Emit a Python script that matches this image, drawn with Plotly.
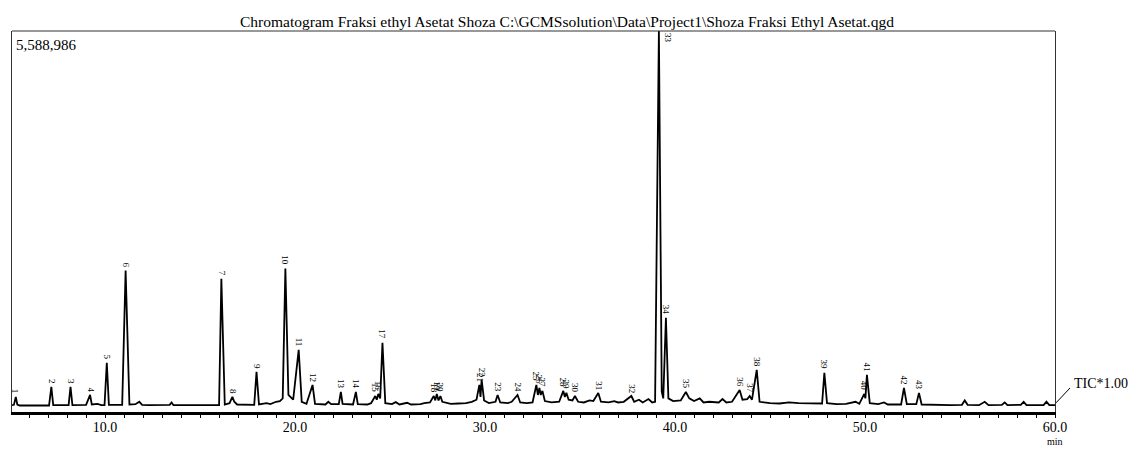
import plotly.graph_objects as go

# TIC trace vertices (retention time in min, intensity in counts)
trace_time = [
    5.10, 5.20, 5.30, 5.38, 5.50, 7.05, 7.17, 7.27, 8.08, 8.18, 8.28, 9.00, 9.21, 9.30,
    9.60, 9.80, 9.97, 10.09, 10.20, 10.90, 11.08, 11.28, 11.60, 11.80, 11.95, 12.30,
    13.40, 13.50, 13.60, 16.00, 16.12, 16.30, 16.55, 16.70, 16.80, 16.95, 17.85, 17.97,
    18.10, 18.50, 18.70, 19.00, 19.20, 19.35, 19.49, 19.65, 19.90, 20.19, 20.35, 20.60,
    20.92, 21.05, 21.60, 21.75, 21.90, 22.30, 22.41, 22.50, 23.05, 23.20, 23.30, 23.80,
    24.00, 24.22, 24.30, 24.38, 24.48, 24.60, 24.75, 25.10, 25.30, 25.50, 25.90, 26.10,
    26.60, 26.80, 27.10, 27.30, 27.38, 27.46, 27.55, 27.65, 27.75, 28.20, 28.60, 29.00,
    29.30, 29.55, 29.70, 29.76, 29.82, 29.95, 30.20, 30.55, 30.66, 30.80, 31.20, 31.40,
    31.71, 31.85, 32.20, 32.50, 32.70, 32.78, 32.86, 32.93, 33.02, 33.15, 33.50, 33.90,
    34.12, 34.20, 34.28, 34.40, 34.60, 34.73, 34.90, 35.20, 35.50, 35.70, 35.96, 36.10,
    36.50, 36.80, 37.00, 37.30, 37.70, 37.85, 38.10, 38.30, 38.60, 38.80, 38.95, 39.15,
    39.30, 39.38, 39.52, 39.65, 39.90, 40.30, 40.57, 40.75, 41.00, 41.30, 41.50, 41.80,
    42.30, 42.50, 42.70, 43.00, 43.40, 43.55, 43.80, 43.93, 44.05, 44.30, 44.45, 45.00,
    45.50, 46.00, 46.50, 47.00, 47.74, 47.86, 48.00, 48.50, 49.00, 49.50, 49.70, 49.96,
    50.02, 50.10, 50.25, 50.70, 51.00, 51.20, 51.90, 52.05, 52.20, 52.70, 52.84, 52.98,
    53.50, 54.00, 54.50, 55.10, 55.25, 55.40, 56.00, 56.30, 56.50, 57.20, 57.35, 57.50,
    58.20, 58.35, 58.50, 59.40, 59.55, 59.70, 60.00,
]
trace_tic = [
    100000, 105000, 220000, 110000, 95000, 95000, 368000, 100000, 100000, 368000, 100000, 105000, 250000, 110000,
    120000, 100000, 100000, 721000, 105000, 105000, 2074000, 110000, 115000, 150000, 105000, 100000,
    105000, 140000, 100000, 100000, 1956000, 110000, 130000, 221000, 150000, 110000, 105000, 588000,
    110000, 130000, 115000, 150000, 160000, 200000, 2103000, 250000, 180000, 912000, 150000, 120000,
    397000, 120000, 110000, 150000, 115000, 115000, 294000, 120000, 110000, 294000, 115000, 110000,
    130000, 235000, 180000, 265000, 200000, 1015000, 130000, 115000, 145000, 110000, 135000, 110000,
    115000, 130000, 140000, 235000, 170000, 265000, 170000, 235000, 150000, 120000, 125000, 130000,
    150000, 180000, 397000, 220000, 471000, 170000, 130000, 150000, 250000, 140000, 130000, 150000,
    250000, 140000, 130000, 140000, 397000, 250000, 353000, 250000, 309000, 160000, 140000, 150000,
    309000, 220000, 280000, 180000, 170000, 235000, 150000, 140000, 170000, 160000, 280000, 150000,
    140000, 160000, 140000, 150000, 235000, 150000, 180000, 140000, 190000, 140000, 150000, 5588986,
    300000, 200000, 1383000, 200000, 160000, 170000, 294000, 200000, 160000, 200000, 140000, 150000,
    140000, 190000, 140000, 150000, 324000, 180000, 190000, 235000, 180000, 618000, 150000, 130000,
    125000, 140000, 130000, 125000, 125000, 574000, 130000, 115000, 120000, 150000, 120000, 265000,
    200000, 544000, 130000, 115000, 140000, 110000, 110000, 353000, 115000, 115000, 280000, 110000,
    105000, 110000, 100000, 105000, 170000, 105000, 100000, 150000, 100000, 105000, 140000, 100000,
    105000, 150000, 100000, 100000, 150000, 100000, 100000,
]

# integrated peak numbers and their apex (time, intensity)
peak_no = list(range(1, 44))
peak_rt = [
    5.30, 7.17, 8.18, 9.21, 10.09, 11.08, 16.12, 16.70, 17.97, 19.49, 20.19, 20.92, 22.41,
    23.20, 24.22, 24.38, 24.60, 27.30, 27.46, 27.65, 29.70, 29.82, 30.66, 31.71, 32.70,
    32.86, 33.02, 34.12, 34.28, 34.73, 35.96, 37.70, 39.15, 39.52, 40.57, 43.40, 43.93,
    44.30, 47.86, 49.96, 50.10, 52.05, 52.84,
]
peak_height = [
    220000, 368000, 368000, 250000, 721000, 2074000, 1956000, 221000, 588000, 2103000, 912000,
    397000, 294000, 294000, 235000, 265000, 1015000, 235000, 265000, 235000, 397000, 471000,
    250000, 250000, 397000, 353000, 309000, 309000, 280000, 235000, 280000, 235000, 5588986,
    1383000, 294000, 324000, 235000, 618000, 574000, 265000, 544000, 353000, 280000,
]

title_text = "Chromatogram Fraksi ethyl Asetat Shoza C:\\GCMSsolution\\Data\\Project1\\Shoza Fraksi Ethyl Asetat.qgd"
y_max = 5588986
x_min, x_max = 5.1, 60.0

serif = "Liberation Serif"
txt = dict(family=serif, size=15, color="black")

fig = go.Figure()
fig.add_trace(go.Scatter(
    x=trace_time, y=trace_tic, mode="lines",
    line=dict(color="black", width=1.8),
    hoverinfo="skip", showlegend=False,
))

# peak number labels, rotated like the instrument printout
for n, rt, h in zip(peak_no, peak_rt, peak_height):
    if n == 33:
        fig.add_annotation(x=rt, y=h, text=str(n), textangle=90, showarrow=False,
                           xanchor="left", yanchor="top", xshift=2,
                           font=dict(family=serif, size=9, color="black"))
    else:
        fig.add_annotation(x=rt, y=h, text=str(n), textangle=90, showarrow=False,
                           yanchor="bottom", yshift=1,
                           font=dict(family=serif, size=9, color="black"))

fig.add_annotation(text=title_text, showarrow=False, xref="paper", yref="paper",
                   x=0.532, y=1.0, yanchor="middle", yshift=10,
                   font=dict(family=serif, size=15.5, color="black"))
fig.add_annotation(text=f"{y_max:,}", showarrow=False, xref="paper", yref="paper",
                   x=0.002, y=0.99, xanchor="left", yanchor="top", font=txt)
fig.add_annotation(text="TIC*1.00", showarrow=False, xref="paper", yref="paper",
                   x=1.016, y=0.076, xanchor="left", yanchor="middle",
                   font=dict(family=serif, size=14, color="black"))
fig.add_annotation(text="min", showarrow=False, xref="x", yref="paper",
                   x=x_max, y=-0.0971, xanchor="center", yanchor="bottom",
                   font=dict(family=serif, size=10, color="black"))

# top frame line and TIC leader line
fig.add_shape(type="line", xref="paper", yref="paper", x0=0, x1=1, y0=1, y1=1,
              line=dict(color="#333", width=1.2))
fig.add_shape(type="line", xref="paper", yref="paper", x0=1.001, x1=1.0144, y0=0.024, y1=0.063,
              line=dict(color="black", width=1))

fig.update_xaxes(
    range=[x_min, x_max], showgrid=False, zeroline=False,
    showline=True, linecolor="black", linewidth=2.5,
    tick0=0, dtick=10, tickformat=".1f", ticks="outside", ticklen=3, tickcolor="black",
    minor=dict(dtick=1, ticks="outside", ticklen=3, tickcolor="black"),
    tickfont=dict(family=serif, size=14, color="black"), ticklabelstandoff=-3,
)
fig.update_yaxes(
    range=[0, y_max], showgrid=False, zeroline=False, showticklabels=False,
    showline=True, mirror=True, linecolor="#333", linewidth=1.2, ticks="",
)
fig.update_layout(
    width=1133, height=449,
    margin=dict(l=12, r=78, t=31, b=37),
    plot_bgcolor="white", paper_bgcolor="white",
    showlegend=False,
)

# drop the default 8px page margin so the figure fills the window exactly
fig.write_html(
    "out.html",
    config={"displayModeBar": False},
    post_script="document.body.style.margin='0';document.body.style.overflow='hidden';",
)
